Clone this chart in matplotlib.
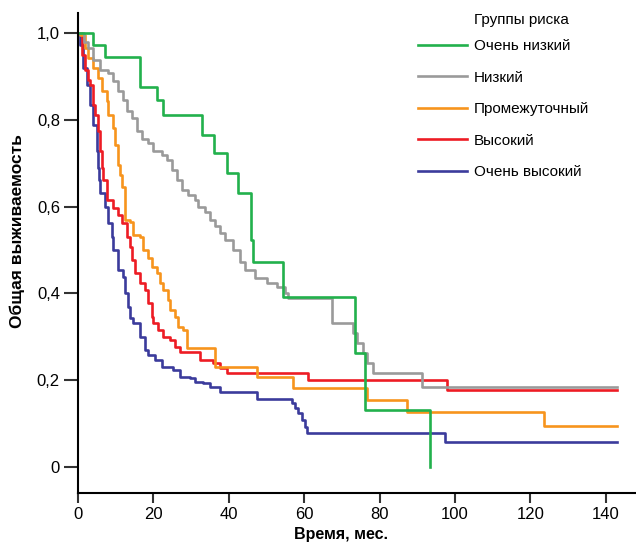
# -*- coding:utf-8 -*-
# Kaplan-Meier curves by risk group
import matplotlib
matplotlib.use("Agg")
import matplotlib.pyplot as plt

# Очень низкий
t_vlow = [0, 4.0, 7.2, 16.4, 21.0, 22.5, 33.0, 36.0, 39.5, 42.4, 46.0, 46.5, 54.4, 73.5, 76.1, 93.4]
s_vlow = [1.0, 0.972, 0.944, 0.876, 0.846, 0.811, 0.765, 0.723, 0.677, 0.631, 0.523, 0.472, 0.392, 0.263, 0.131, 0.0]

# Низкий
t_low = [0, 1.6, 2.7, 4.0, 5.8, 8.0, 9.3, 10.6, 11.9, 13.0, 14.3, 15.6, 17.0, 18.6, 19.9, 22.3,
         23.6, 24.9, 26.3, 27.6, 29.2, 31.0, 31.8, 33.7, 35.0, 36.3, 37.7, 39.0, 41.1, 43.0, 44.3,
         46.9, 50.1, 52.8, 54.9, 55.7, 67.4, 72.9, 74.0, 75.6, 76.7, 78.2, 91.2, 143]
s_low = [1.0, 0.979, 0.965, 0.938, 0.915, 0.908, 0.889, 0.866, 0.846, 0.820, 0.804, 0.774, 0.756,
         0.747, 0.728, 0.719, 0.707, 0.684, 0.661, 0.638, 0.627, 0.615, 0.599, 0.588, 0.569, 0.555,
         0.539, 0.523, 0.500, 0.472, 0.454, 0.435, 0.424, 0.415, 0.401, 0.389, 0.332, 0.309, 0.286,
         0.263, 0.240, 0.217, 0.184, 0.184]

# Промежуточный
t_mid = [0, 0.5, 1.9, 2.7, 4.0, 5.3, 6.4, 7.7, 8.0, 9.3, 9.8, 10.6, 11.1, 11.7, 12.5, 13.8, 14.6,
         16.4, 17.2, 18.6, 19.6, 21.0, 21.8, 22.5, 23.9, 24.4, 25.7, 26.5, 27.9, 28.9, 36.3, 47.5,
         57.0, 76.7, 87.3, 123.6, 143]
s_mid = [1.0, 0.995, 0.965, 0.942, 0.919, 0.896, 0.866, 0.843, 0.811, 0.781, 0.742, 0.696, 0.673,
         0.645, 0.569, 0.565, 0.535, 0.530, 0.500, 0.482, 0.461, 0.447, 0.424, 0.408, 0.385, 0.362,
         0.346, 0.323, 0.316, 0.274, 0.230, 0.207, 0.182, 0.154, 0.127, 0.094, 0.094]

# Высокий
t_high = [0, 1.1, 1.9, 2.7, 3.2, 4.0, 4.5, 5.3, 5.8, 6.4, 6.6, 7.7, 9.3, 10.6, 11.7, 13.0, 13.8,
          14.3, 15.1, 16.4, 17.8, 18.6, 19.6, 19.9, 21.2, 22.5, 24.4, 25.7, 27.1, 32.4, 35.8, 37.7,
          39.5, 61.0, 97.9, 143]
s_high = [1.0, 0.949, 0.915, 0.892, 0.880, 0.834, 0.811, 0.774, 0.728, 0.689, 0.661, 0.615, 0.597,
          0.581, 0.562, 0.530, 0.507, 0.477, 0.447, 0.424, 0.408, 0.378, 0.346, 0.332, 0.316, 0.300,
          0.293, 0.276, 0.265, 0.247, 0.240, 0.228, 0.217, 0.200, 0.177, 0.177]

# Очень высокий
t_vhigh = [0, 0.5, 1.3, 2.4, 3.2, 4.0, 5.0, 5.3, 5.6, 5.8, 7.2, 8.0, 9.0, 9.3, 10.6, 11.9, 12.5,
           13.3, 13.8, 14.6, 16.4, 17.8, 18.6, 20.4, 22.3, 25.2, 27.1, 29.7, 31.0, 33.2, 35.0, 37.7,
           47.5, 56.8, 57.6, 58.4, 59.4, 60.2, 60.7, 63.7, 97.3, 143]
s_vhigh = [1.0, 0.972, 0.919, 0.880, 0.834, 0.788, 0.728, 0.689, 0.661, 0.631, 0.599, 0.562, 0.530,
           0.500, 0.454, 0.438, 0.401, 0.369, 0.343, 0.332, 0.300, 0.270, 0.258, 0.247, 0.230, 0.224,
           0.207, 0.205, 0.196, 0.194, 0.184, 0.173, 0.157, 0.147, 0.136, 0.124, 0.108, 0.092, 0.078,
           0.078, 0.058, 0.058]

labels = ["Очень низкий", "Низкий", "Промежуточный", "Высокий", "Очень высокий"]
colors = ["#22b14c", "#9a9a9a", "#f7941d", "#ed1c24", "#3b3b9c"]
series = [(t_vlow, s_vlow), (t_low, s_low), (t_mid, s_mid), (t_high, s_high), (t_vhigh, s_vhigh)]

yticks = [0, 0.2, 0.4, 0.6, 0.8, 1.0]
ytick_labels = ["0", "0,2", "0,4", "0,6", "0,8", "1,0"]
xticks = [0, 20, 40, 60, 80, 100, 120, 140]

plt.rcParams["font.family"] = ["Liberation Sans", "DejaVu Sans"]

fig = plt.figure(figsize=(6.36, 5.43), dpi=100)
ax = fig.add_axes([0.1226, 0.092, 0.8774, 0.884])

# рисуем в обратном порядке, чтобы зелёная была сверху
for (t, s), c, lab in reversed(list(zip(series, colors, labels))):
    ax.step(t, s, where="post", color=c, lw=1.9, label=lab)

ax.set_xlim(0, 148)
ax.set_ylim(-0.06, 1.046)
ax.spines["top"].set_visible(False)
ax.spines["right"].set_visible(False)
ax.spines["left"].set_linewidth(1.5)
ax.spines["bottom"].set_linewidth(1.5)
ax.set_yticks(yticks)
ax.set_yticklabels(ytick_labels)
ax.set_xticks(xticks)
ax.tick_params(axis="both", labelsize=12, width=1.5, color="#333333")
ax.tick_params(axis="y", length=10, pad=3)
ax.tick_params(axis="x", length=7, pad=3)

ax.set_xlabel("Время, мес.", fontsize=11.5, fontweight="bold")
ax.set_ylabel("Общая выживаемость", fontsize=12.5, fontweight="bold")
ax.xaxis.set_label_coords(0.471, -0.07)
ax.yaxis.set_label_coords(-0.095, 0.546)

handles, labs = ax.get_legend_handles_labels()
handles, labs = handles[::-1], labs[::-1]
leg = ax.legend(handles, labs, loc="upper left", bbox_to_anchor=(0.609, 0.946),
                frameon=False, fontsize=11, handlelength=3.2, handletextpad=0.46,
                labelspacing=1.15, borderpad=0, borderaxespad=0)
fig.text(474 / 636, 1 - 20 / 543, "Группы риска", fontsize=11, va="center", ha="left")

fig.savefig("out.png", dpi=100)
